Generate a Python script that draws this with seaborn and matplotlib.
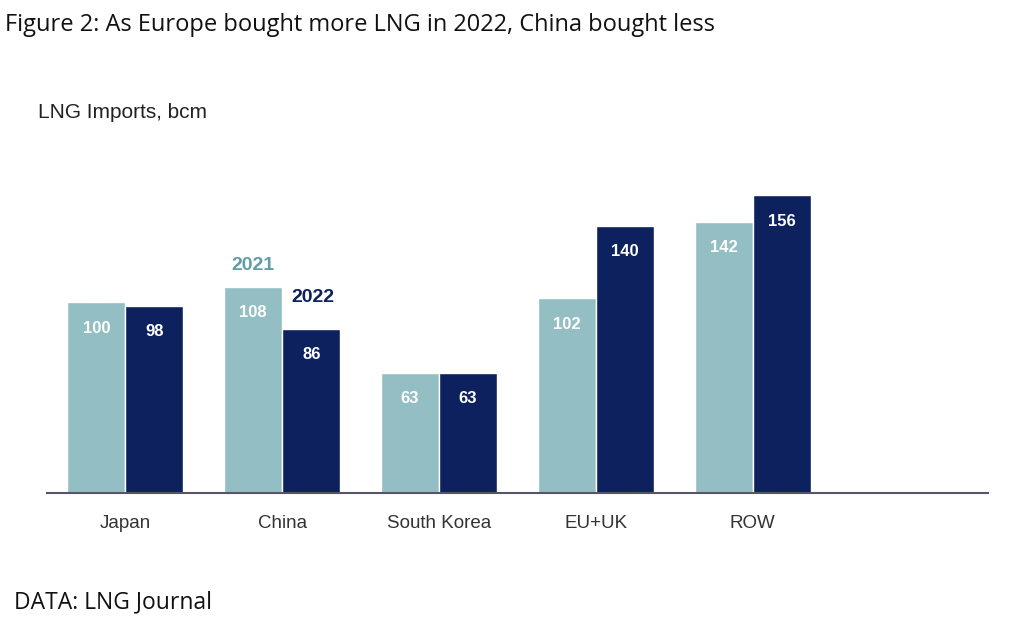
import pandas as pd
import matplotlib.pyplot as plt
import seaborn as sns

regions = ["Japan", "China", "South Korea", "EU+UK", "ROW"]
imports_2021 = [100, 108, 63, 102, 142]
imports_2022 = [98, 86, 63, 140, 156]

light = "#93bfc4"
dark = "#0c215e"

df = pd.DataFrame({
    "region": regions * 2,
    "year": ["2021"] * 5 + ["2022"] * 5,
    "bcm": imports_2021 + imports_2022,
})

sns.set_style("white")
plt.rcParams["font.family"] = ["Liberation Sans", "DejaVu Sans"]

fig = plt.figure(figsize=(10.09, 6.22), dpi=100)
ax = fig.add_axes([0.0466, 0.2074, 0.9326, 0.506])
sns.barplot(data=df, x="region", y="bcm", hue="year", palette=[light, dark],
            width=0.74, saturation=1, legend=False, ax=ax)
ax.set_xlim(-0.5, 5.5)
ax.set_ylim(0, 165)

for cont in ax.containers:
    ax.bar_label(cont, padding=-24, color="white", fontsize=12, fontweight="bold")

ax.set_xlabel("")
ax.set_ylabel("")
ax.set_yticks([])
for s in ["top", "right", "left"]:
    ax.spines[s].set_visible(False)
ax.spines["bottom"].set_color("#555566")
ax.spines["bottom"].set_linewidth(1.5)
ax.tick_params(axis="x", length=0, pad=16, labelsize=13.5, labelcolor="#333333")

ax.text(0.815, 117, "2021", color="#5f9ea6", fontsize=14, fontweight="bold", ha="center")
ax.text(1.195, 100, "2022", color=dark, fontsize=14, fontweight="bold", ha="center")

fig.text(0.005, 0.95, "Figure 2: As Europe bought more LNG in 2022, China bought less",
         fontsize=17, family=["Open Sans", "DejaVu Sans"], color="#111111")
fig.text(0.038, 0.81, "LNG Imports, bcm", fontsize=15, color="#222222")
fig.text(0.014, 0.022, "DATA: LNG Journal", fontsize=16.5,
         family=["Open Sans", "DejaVu Sans"], color="#111111")

fig.savefig("out.png", dpi=100)
